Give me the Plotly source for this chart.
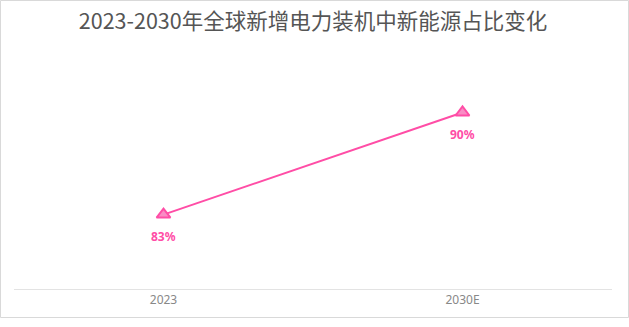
import plotly.graph_objects as go

# Share of new energy in global newly installed power capacity
years = ["2023", "2030E"]
share = [83, 90]
labels = [f"{v}%" for v in share]

line_color = "#ff4da6"

fig = go.Figure()
fig.add_trace(go.Scatter(
    x=years, y=share, mode="lines+markers",
    line=dict(color=line_color, width=2),
    marker=dict(symbol="triangle-up", size=12, color="#f98cc4",
                line=dict(color=line_color, width=2)),
    hoverinfo="x+y", showlegend=False,
))

# Value labels under each point (category index used as x position)
for i, (y, t) in enumerate(zip(share, labels)):
    fig.add_annotation(x=i, y=y, text=t, showarrow=False, yshift=-22,
                       font=dict(family="Noto Sans, Noto Sans CJK SC", size=12,
                                 color=line_color, weight="bold"))

W, H = 629, 318
ml, mr, mt, mb = 14, 17, 60, 29
pw, ph = W - ml - mr, H - mt - mb

def px_x(p):
    return (p - ml) / pw

def px_y(p):
    return (H - mb - p) / ph

# Outer frame around the chart card
fig.add_shape(type="rect", xref="paper", yref="paper",
              x0=px_x(0.5), x1=px_x(628.5), y0=px_y(317.5), y1=px_y(0.5),
              line=dict(color="#d9d9d9", width=1), layer="below")

fig.update_layout(
    width=W, height=H,
    margin=dict(l=ml, r=mr, t=mt, b=mb),
    paper_bgcolor="white", plot_bgcolor="white",
    title=dict(text="2023-2030年全球新增电力装机中新能源占比变化",
               x=0.5, xref="paper", xanchor="center", y=1 - 21 / H, yanchor="middle",
               font=dict(family="Noto Sans CJK SC", size=21.5, color="#555555")),
    xaxis=dict(type="category", range=[-0.5, 1.5], showgrid=False,
               showline=True, linecolor="#e3e3e3", linewidth=1, ticks="",
               automargin=False,
               tickfont=dict(family="Noto Sans, Noto Sans CJK SC", size=12, color="#888888"),
               zeroline=False, fixedrange=True),
    yaxis=dict(range=[77.9, 93.6], visible=False, fixedrange=True, automargin=False),
)

fig.write_html("out.html", config={"displayModeBar": False})
